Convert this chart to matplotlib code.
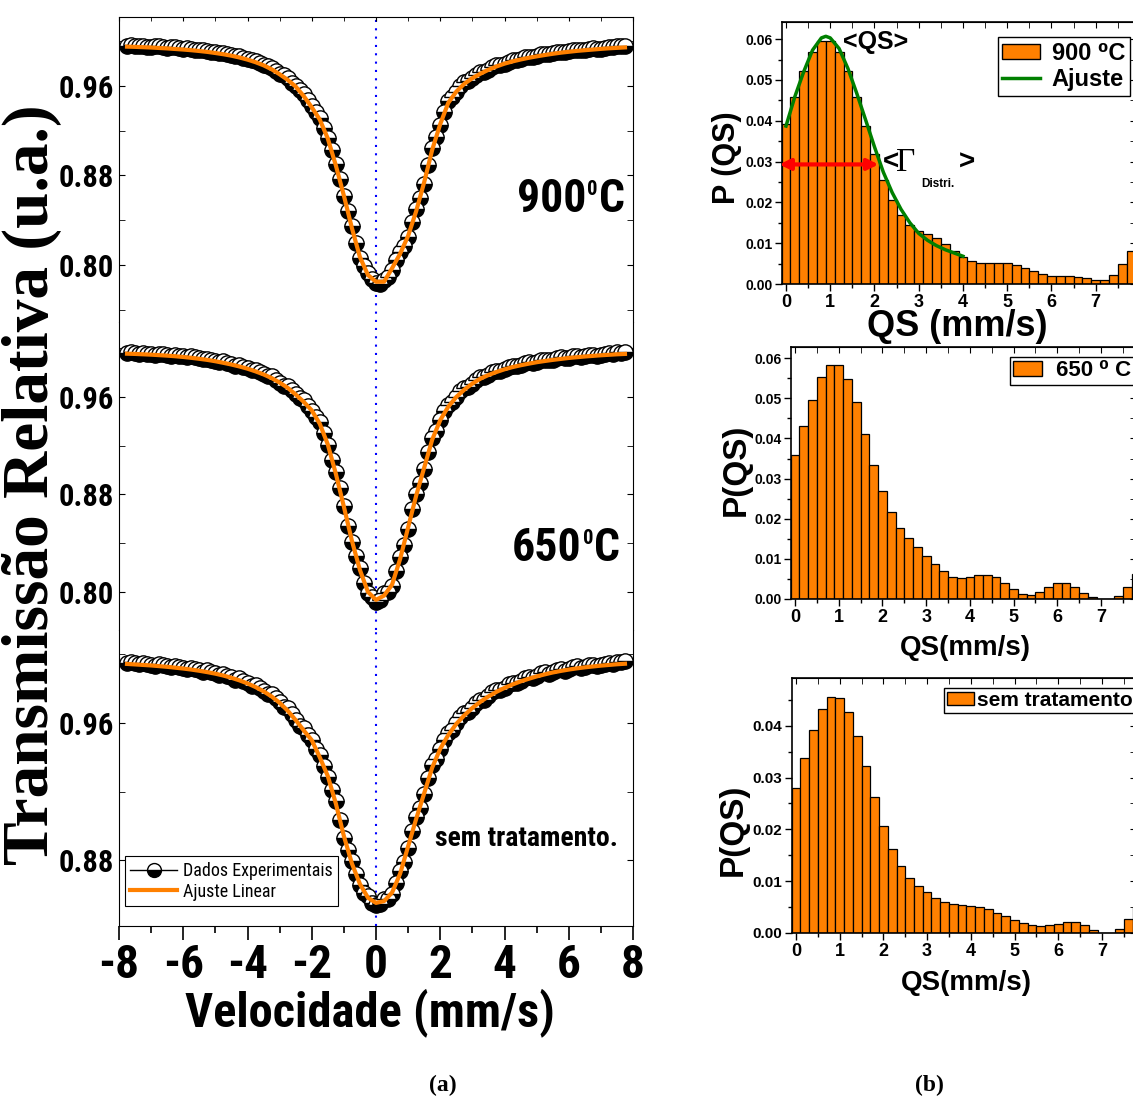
import numpy as np
import matplotlib
matplotlib.use('Agg')
import matplotlib.pyplot as plt
from matplotlib import font_manager as fm
from matplotlib.font_manager import FontProperties
from matplotlib.lines import Line2D
from matplotlib.patches import Patch
from matplotlib.ticker import MultipleLocator, FixedLocator

plt.rcParams['axes.unicode_minus'] = False

# ---- Mossbauer spectra (left), velocity grid -7.75..7.75 mm/s ----
fit_900 = [0.9952, 0.9950, 0.9947, 0.9944, 0.9940, 0.9936, 0.9931, 0.9926, 0.9920, 0.9913,
           0.9905, 0.9895, 0.9884, 0.9871, 0.9855, 0.9836, 0.9813, 0.9785, 0.9750, 0.9705,
           0.9655, 0.9595, 0.9510, 0.9410, 0.9300, 0.9130, 0.8890, 0.8620, 0.8330, 0.8070,
           0.7910, 0.7850, 0.7850, 0.7970, 0.8100, 0.8260, 0.8480, 0.8740, 0.9030, 0.9260,
           0.9450, 0.9550, 0.9620, 0.9670, 0.9710, 0.9745, 0.9775, 0.9800, 0.9820, 0.9837,
           0.9852, 0.9865, 0.9877, 0.9888, 0.9898, 0.9906, 0.9914, 0.9920, 0.9926, 0.9932,
           0.9937, 0.9941, 0.9945]
data_900 = [0.9960, 0.9963, 0.9957, 0.9955, 0.9962, 0.9953, 0.9951, 0.9956, 0.9955, 0.9946,
            0.9943, 0.9949, 0.9946, 0.9937, 0.9933, 0.9938, 0.9931, 0.9921, 0.9918, 0.9923,
            0.9916, 0.9905, 0.9902, 0.9899, 0.9893, 0.9886, 0.9876, 0.9871, 0.9866, 0.9852,
            0.9840, 0.9833, 0.9824, 0.9804, 0.9788, 0.9779, 0.9761, 0.9731, 0.9709, 0.9694,
            0.9668, 0.9631, 0.9597, 0.9567, 0.9526, 0.9471, 0.9421, 0.9368, 0.9311, 0.9229,
            0.9138, 0.9028, 0.8904, 0.8768, 0.8619, 0.8486, 0.8352, 0.8197, 0.8064, 0.7988,
            0.7931, 0.7872, 0.7838, 0.7829, 0.7866, 0.7893, 0.7951, 0.8047, 0.8116, 0.8169,
            0.8247, 0.8381, 0.8502, 0.8598, 0.8727, 0.8893, 0.9048, 0.9142, 0.9251, 0.9372,
            0.9463, 0.9498, 0.9547, 0.9602, 0.9634, 0.9642, 0.9668, 0.9701, 0.9722, 0.9728,
            0.9747, 0.9771, 0.9786, 0.9789, 0.9801, 0.9819, 0.9831, 0.9832, 0.9840, 0.9856,
            0.9863, 0.9862, 0.9869, 0.9883, 0.9889, 0.9886, 0.9891, 0.9905, 0.9908, 0.9905,
            0.9911, 0.9922, 0.9925, 0.9920, 0.9924, 0.9934, 0.9936, 0.9931, 0.9935, 0.9944,
            0.9948, 0.9946, 0.9959, 0.9957, 0.9962]

fit_650 = [0.9955, 0.9953, 0.9950, 0.9947, 0.9943, 0.9939, 0.9934, 0.9928, 0.9921, 0.9913,
           0.9904, 0.9893, 0.9880, 0.9866, 0.9850, 0.9832, 0.9810, 0.9785, 0.9755, 0.9718,
           0.9675, 0.9620, 0.9560, 0.9490, 0.9380, 0.9210, 0.8970, 0.8700, 0.8420, 0.8180,
           0.8000, 0.7935, 0.7970, 0.8060, 0.8270, 0.8530, 0.8790, 0.9020, 0.9250, 0.9410,
           0.9520, 0.9600, 0.9660, 0.9710, 0.9750, 0.9780, 0.9805, 0.9827, 0.9845, 0.9860,
           0.9873, 0.9885, 0.9895, 0.9904, 0.9912, 0.9920, 0.9926, 0.9932, 0.9937, 0.9942,
           0.9946, 0.9950, 0.9953]
data_650 = [0.9962, 0.9966, 0.9960, 0.9954, 0.9958, 0.9956, 0.9951, 0.9947, 0.9955, 0.9949,
            0.9942, 0.9938, 0.9946, 0.9939, 0.9933, 0.9927, 0.9935, 0.9924, 0.9917, 0.9910,
            0.9915, 0.9905, 0.9897, 0.9887, 0.9891, 0.9879, 0.9868, 0.9857, 0.9862, 0.9846,
            0.9835, 0.9819, 0.9819, 0.9803, 0.9787, 0.9768, 0.9768, 0.9741, 0.9716, 0.9694,
            0.9688, 0.9655, 0.9623, 0.9589, 0.9572, 0.9527, 0.9487, 0.9432, 0.9398, 0.9305,
            0.9206, 0.9081, 0.8982, 0.8849, 0.8703, 0.8545, 0.8412, 0.8297, 0.8196, 0.8071,
            0.7994, 0.7962, 0.7921, 0.7938, 0.7989, 0.7997, 0.8047, 0.8172, 0.8288, 0.8386,
            0.8516, 0.8683, 0.8807, 0.8896, 0.9008, 0.9151, 0.9264, 0.9322, 0.9407, 0.9483,
            0.9533, 0.9557, 0.9603, 0.9647, 0.9672, 0.9681, 0.9709, 0.9741, 0.9761, 0.9762,
            0.9783, 0.9804, 0.9816, 0.9814, 0.9830, 0.9848, 0.9856, 0.9853, 0.9863, 0.9878,
            0.9884, 0.9879, 0.9888, 0.9902, 0.9906, 0.9900, 0.9907, 0.9920, 0.9924, 0.9917,
            0.9923, 0.9933, 0.9937, 0.9930, 0.9935, 0.9944, 0.9947, 0.9940, 0.9946, 0.9954,
            0.9957, 0.9951, 0.9968, 0.9963, 0.9966]

fit_sem = [0.9945, 0.9942, 0.9939, 0.9936, 0.9932, 0.9928, 0.9923, 0.9918, 0.9912, 0.9905,
           0.9897, 0.9888, 0.9877, 0.9864, 0.9849, 0.9831, 0.9810, 0.9785, 0.9755, 0.9718,
           0.9672, 0.9617, 0.9557, 0.9500, 0.9400, 0.9290, 0.9130, 0.8940, 0.8780, 0.8660,
           0.8580, 0.8550, 0.8560, 0.8610, 0.8720, 0.8880, 0.9040, 0.9190, 0.9340, 0.9450,
           0.9530, 0.9595, 0.9645, 0.9688, 0.9724, 0.9755, 0.9782, 0.9805, 0.9825, 0.9843,
           0.9858, 0.9872, 0.9884, 0.9895, 0.9904, 0.9912, 0.9919, 0.9925, 0.9930, 0.9935,
           0.9939, 0.9943, 0.9946]
data_sem = [0.9952, 0.9956, 0.9950, 0.9944, 0.9951, 0.9946, 0.9940, 0.9935, 0.9944, 0.9938,
            0.9931, 0.9925, 0.9935, 0.9928, 0.9921, 0.9914, 0.9924, 0.9914, 0.9908, 0.9899,
            0.9910, 0.9898, 0.9891, 0.9880, 0.9889, 0.9876, 0.9866, 0.9854, 0.9861, 0.9846,
            0.9834, 0.9818, 0.9822, 0.9804, 0.9787, 0.9767, 0.9769, 0.9744, 0.9720, 0.9693,
            0.9685, 0.9653, 0.9619, 0.9584, 0.9570, 0.9531, 0.9498, 0.9451, 0.9412, 0.9349,
            0.9286, 0.9208, 0.9143, 0.9031, 0.8931, 0.8857, 0.8794, 0.8716, 0.8652, 0.8607,
            0.8589, 0.8552, 0.8536, 0.8541, 0.8571, 0.8574, 0.8603, 0.8668, 0.8734, 0.8791,
            0.8869, 0.8968, 0.9053, 0.9104, 0.9184, 0.9281, 0.9352, 0.9391, 0.9446, 0.9502,
            0.9543, 0.9558, 0.9598, 0.9635, 0.9657, 0.9664, 0.9690, 0.9719, 0.9735, 0.9736,
            0.9758, 0.9781, 0.9793, 0.9790, 0.9807, 0.9827, 0.9836, 0.9831, 0.9846, 0.9862,
            0.9869, 0.9862, 0.9874, 0.9890, 0.9895, 0.9887, 0.9897, 0.9910, 0.9915, 0.9906,
            0.9914, 0.9926, 0.9930, 0.9922, 0.9927, 0.9938, 0.9941, 0.9933, 0.9938, 0.9947,
            0.9950, 0.9944, 0.9958, 0.9955, 0.9961]

# ---- QS distributions (right) ----
qs_bins = np.arange(0, 7.81, 0.2)
p_900 = [0.0391, 0.0458, 0.0522, 0.0568, 0.0595, 0.0595, 0.0569, 0.0522, 0.0459, 0.0388,
         0.0318, 0.0255, 0.0205, 0.0168, 0.0145, 0.0131, 0.0122, 0.0112, 0.0099, 0.0082,
         0.0067, 0.0056, 0.0051, 0.0051, 0.0052, 0.0051, 0.0047, 0.0040, 0.0031, 0.0024,
         0.0020, 0.0020, 0.0020, 0.0018, 0.0014, 0.0010, 0.0011, 0.0023, 0.0048, 0.0080]
p_650 = [0.0358, 0.0430, 0.0497, 0.0552, 0.0583, 0.0583, 0.0549, 0.0490, 0.0412, 0.0335,
         0.0268, 0.0217, 0.0178, 0.0151, 0.0129, 0.0108, 0.0088, 0.0070, 0.0056, 0.0052,
         0.0055, 0.0061, 0.0061, 0.0055, 0.0041, 0.0026, 0.0013, 0.0011, 0.0017, 0.0030,
         0.0039, 0.0039, 0.0030, 0.0015, 0.0004, 0.0, 0.0, 0.0007, 0.0030, 0.0063]
p_sem = [0.0280, 0.0338, 0.0391, 0.0433, 0.0455, 0.0453, 0.0427, 0.0381, 0.0323, 0.0262,
         0.0207, 0.0162, 0.0130, 0.0107, 0.0091, 0.0079, 0.0068, 0.0060, 0.0056, 0.0054,
         0.0053, 0.0051, 0.0046, 0.0039, 0.0032, 0.0025, 0.0019, 0.0015, 0.0014, 0.0015,
         0.0018, 0.0022, 0.0021, 0.0015, 0.0006, 0.0, 0.0, 0.0008, 0.0027, 0.0050]

# fitted distribution curve (900 C)
qs_fit = [0.0, 0.2, 0.4, 0.6, 0.8, 0.9, 1.0, 1.2, 1.4, 1.6, 1.8, 2.0, 2.2, 2.4, 2.6,
          2.8, 3.0, 3.2, 3.4, 3.6, 3.8, 4.0]
p_fit = [0.0387, 0.0459, 0.0520, 0.0573, 0.0603, 0.0607, 0.0603, 0.0577, 0.0528, 0.0467,
         0.0402, 0.0336, 0.0274, 0.0224, 0.0183, 0.0150, 0.0124, 0.0107, 0.0094, 0.0084,
         0.0076, 0.0068]

W, H = 1133, 1099
SANS = ['Liberation Sans', 'DejaVu Sans']
SERIF = ['Liberation Serif', 'DejaVu Serif']
ORANGE = '#FF8000'


def find_static(names, weight):
    # a static (non-variable) upright file of a condensed family
    for nm in names:
        for f in fm.fontManager.ttflist:
            w = f.weight if isinstance(f.weight, int) else fm.weight_dict.get(f.weight, 400)
            if f.name == nm and w == weight and f.style == 'normal' and '[' not in f.fname:
                return f.fname
    return None


prefs = ['Roboto Condensed', 'IBM Plex Sans Condensed', 'Asap Condensed', 'PT Sans Narrow']
nb_file = find_static(prefs, 700)
nr_file = find_static(prefs, 400)


def nb(size):
    if nb_file:
        return FontProperties(fname=nb_file, size=size)
    return FontProperties(family=SANS, weight='bold', size=size * 0.84)


def nr(size):
    if nr_file:
        return FontProperties(fname=nr_file, size=size)
    return FontProperties(family=SANS, size=size * 0.84)


fig = plt.figure(figsize=(W / 100, H / 100), dpi=100)


def px_axes(x0, y0, x1, y1):
    return fig.add_axes([x0 / W, 1 - y1 / H, (x1 - x0) / W, (y1 - y0) / H])


def temp_label(ax, x, y, num, size):
    # "900" + small raised "0" + "C"
    t1 = ax.text(x, y, num, fontproperties=nb(size), ha='left', va='baseline')
    t2 = ax.annotate('0', xy=(1, 1), xycoords=t1, xytext=(1, -2), textcoords='offset points',
                     fontproperties=nb(size * 0.45), ha='left', va='top')
    ax.annotate('C', xy=(1, 0), xycoords=(t2, t1), xytext=(1, 0), textcoords='offset points',
                fontproperties=nb(size), ha='left', va='bottom')


# left panels: (fit, data, y pixel span, ylim, yticks)
panels = [
    (fit_900, data_900, (17, 322), (0.749, 1.0217), [0.80, 0.88, 0.96]),
    (fit_650, data_650, (322, 630), (0.7688, 1.0215), [0.80, 0.88, 0.96]),
    (fit_sem, data_sem, (630, 926), (0.8415, 1.0143), [0.88, 0.96]),
]

lax = []
for i, (fit, data, (ya, yb), ylim, yt) in enumerate(panels):
    ax = px_axes(119, ya, 633, yb)
    ax.set_xlim(-8, 8)
    ax.set_ylim(*ylim)
    ax.axvline(0, color='blue', ls=(0, (1, 3)), lw=1.5, zorder=1)
    ax.plot(np.linspace(-7.75, 7.75, len(data)), data, ls='none', marker='o', ms=11,
            mec='black', mew=1, mfc='black', mfcalt='white', fillstyle='bottom', zorder=2)
    ax.plot(np.linspace(-7.75, 7.75, len(fit)), fit, color=ORANGE, lw=3, zorder=3)
    ax.yaxis.set_major_locator(FixedLocator(yt))
    ax.yaxis.set_minor_locator(MultipleLocator(0.04))
    ax.tick_params(axis='y', which='both', direction='in', left=True, right=True, length=4)
    for t in ax.get_yticklabels():
        t.set_fontproperties(nb(22))
    ax.xaxis.set_major_locator(MultipleLocator(2))
    ax.xaxis.set_minor_locator(MultipleLocator(1))
    if i == 0:
        ax.spines['bottom'].set_visible(False)
        ax.tick_params(axis='x', which='both', top=True, bottom=False, direction='in',
                       labelbottom=False, length=3)
    elif i == 1:
        ax.spines['bottom'].set_visible(False)
        ax.spines['top'].set_visible(False)
        ax.tick_params(axis='x', which='both', top=False, bottom=False, labelbottom=False)
    else:
        ax.spines['top'].set_visible(False)
        ax.tick_params(axis='x', which='major', direction='out', length=10, width=1.2, pad=2)
        ax.tick_params(axis='x', which='minor', direction='out', length=5, width=1.2)
        for t in ax.get_xticklabels():
            t.set_fontproperties(nb(34))
    lax.append(ax)

temp_label(lax[0], 4.38, 0.8475, '900', 33)
temp_label(lax[1], 4.22, 0.8255, '650', 33)
lax[2].text(1.84, 0.8928, 'sem tratamento.', fontproperties=nb(20), ha='left', va='center')

handles = [
    Line2D([], [], color='black', lw=1, marker='o', ms=10, mec='black', mfc='black',
           mfcalt='white', fillstyle='bottom'),
    Line2D([], [], color=ORANGE, lw=3),
]
leg = lax[2].legend(handles, ['Dados Experimentais', 'Ajuste Linear'],
                    loc='lower left', bbox_to_anchor=(125 / W, 1 - 906 / H),
                    bbox_transform=fig.transFigure, borderaxespad=0,
                    prop=nr(13), handlelength=2.6,
                    handletextpad=0.3, labelspacing=0.15, borderpad=0.3,
                    fancybox=False, edgecolor='black', framealpha=1)
leg.get_frame().set_linewidth(0.8)

fig.text(370 / W, 1 - 1013 / H, 'Velocidade (mm/s)', fontproperties=nb(35),
         ha='center', va='center')
fig.text(32 / W, 1 - 485 / H, 'Transmissão Relativa (u.a.)', fontsize=47, fontweight='bold',
         family=SERIF, rotation=90, ha='center', va='center')

# right panels
hists = [
    (p_900, (782, 22, 1136, 284), (-0.09, 7.91), (0, 0.0642), 10, 13),
    (p_650, (791, 347, 1136, 599), (-0.092, 7.8), (0, 0.0628), 10, 13),
    (p_sem, (792, 678, 1136, 933), (-0.092, 7.78), (0, 0.0492), 11, 13),
]
hax = []
for vals, (x0, y0, x1, y1), xlim, ylim, ysz, xsz in hists:
    ax = px_axes(x0, y0, x1, y1)
    ax.bar(qs_bins, vals, width=0.2, color=ORANGE, edgecolor='black', linewidth=0.9)
    ax.set_xlim(*xlim)
    ax.set_ylim(*ylim)
    ax.xaxis.set_major_locator(MultipleLocator(1))
    ax.xaxis.set_minor_locator(MultipleLocator(0.5))
    ax.yaxis.set_major_locator(MultipleLocator(0.01))
    ax.yaxis.set_minor_locator(MultipleLocator(0.005))
    ax.yaxis.set_major_formatter(plt.FormatStrFormatter('%.2f'))
    ax.tick_params(axis='both', which='major', direction='out', length=5, width=1)
    ax.tick_params(axis='both', which='minor', direction='out', length=3, width=1)
    ax.tick_params(axis='y', labelsize=ysz, pad=2)
    ax.tick_params(axis='x', labelsize=xsz, pad=2)
    for t in ax.get_xticklabels() + ax.get_yticklabels():
        t.set_family(SANS)
        t.set_fontweight('bold')
    for s in ax.spines.values():
        s.set_linewidth(1.2)
    sx = ax.secondary_xaxis('top')
    sx.xaxis.set_major_locator(MultipleLocator(1))
    sx.xaxis.set_minor_locator(MultipleLocator(0.5))
    sx.tick_params(which='both', direction='in', labeltop=False, length=4)
    sy = ax.secondary_yaxis('right')
    sy.yaxis.set_major_locator(MultipleLocator(0.01))
    sy.yaxis.set_minor_locator(MultipleLocator(0.005))
    sy.tick_params(which='both', direction='in', labelright=False, length=4)
    hax.append(ax)

# top histogram extras
ax = hax[0]
ax.plot(qs_fit, p_fit, color='#008000', lw=2.5)
ax.annotate('', xy=(2.09, 0.0293), xytext=(-0.15, 0.0293), annotation_clip=False,
            arrowprops=dict(arrowstyle='<|-|>', color='red', lw=3, mutation_scale=16,
                            shrinkA=0, shrinkB=0))
ax.text(1.29, 0.0593, '<QS>', fontsize=18, fontweight='bold', family=SANS, va='center')
ax.text(2.18, 0.0296, '<', fontsize=20, fontweight='bold', family=SANS, va='center')
ax.text(2.48, 0.0296, '\u0393', fontsize=24, family=SERIF, va='center')
ax.text(3.05, 0.0245, 'Distri.', fontsize=8.5, fontweight='bold', family=SANS, va='center')
ax.text(3.9, 0.0296, '>', fontsize=20, fontweight='bold', family=SANS, va='center')
leg = ax.legend([Patch(facecolor=ORANGE, edgecolor='black'), Line2D([], [], color='#008000', lw=2.5)],
                ['900 \u2070C', 'Ajuste'], loc='upper right',
                bbox_to_anchor=(1130 / W, 1 - 37 / H), bbox_transform=fig.transFigure,
                borderaxespad=0, prop={'family': SANS, 'weight': 'bold', 'size': 17},
                handlelength=1.6, handleheight=0.6, handletextpad=0.5, labelspacing=0.15,
                borderpad=0.2, fancybox=False, edgecolor='black', framealpha=1)
leg.get_frame().set_linewidth(1)

leg = hax[1].legend([Patch(facecolor=ORANGE, edgecolor='black')], ['650 \u2070 C'],
                    loc='upper right', bbox_to_anchor=(1134 / W, 1 - 357 / H),
                    bbox_transform=fig.transFigure, borderaxespad=0,
                    prop={'family': SANS, 'weight': 'bold', 'size': 16},
                    handlelength=1.3, handleheight=0.6, handletextpad=0.6, borderpad=0.15,
                    fancybox=False, edgecolor='black', framealpha=1)
leg.get_frame().set_linewidth(1)

leg = hax[2].legend([Patch(facecolor=ORANGE, edgecolor='black')], ['sem tratamento'],
                    loc='upper right', bbox_to_anchor=(1136 / W, 1 - 688 / H),
                    bbox_transform=fig.transFigure, borderaxespad=0,
                    prop={'family': SANS, 'weight': 'bold', 'size': 15},
                    handlelength=1.3, handleheight=0.6, handletextpad=0.15, borderpad=0.15,
                    fancybox=False, edgecolor='black', framealpha=1)
leg.get_frame().set_linewidth(1)

# axis labels of the histograms
fig.text(727 / W, 1 - 158 / H, 'P (QS)', fontsize=22, fontweight='bold', family=SANS,
         rotation=90, ha='center', va='center')
fig.text(957 / W, 1 - 327 / H, 'QS (mm/s)', fontsize=26, fontweight='bold', family=SANS,
         ha='center', va='center')
fig.text(736 / W, 1 - 470 / H, 'P(QS)', fontsize=24, fontweight='bold', family=SANS,
         rotation=90, ha='center', va='center')
fig.text(965 / W, 1 - 648 / H, 'QS(mm/s)', fontsize=20, fontweight='bold', family=SANS,
         ha='center', va='center')
fig.text(733 / W, 1 - 830 / H, 'P(QS)', fontsize=24, fontweight='bold', family=SANS,
         rotation=90, ha='center', va='center')
fig.text(966 / W, 1 - 983 / H, 'QS(mm/s)', fontsize=20, fontweight='bold', family=SANS,
         ha='center', va='center')

fig.text(443 / W, 1 - 1085 / H, '(a)', fontsize=17, fontweight='bold', family=SERIF,
         ha='center', va='center')
fig.text(929 / W, 1 - 1085 / H, '(b)', fontsize=17, fontweight='bold', family=SERIF,
         ha='center', va='center')

fig.savefig('out.png', dpi=100)
